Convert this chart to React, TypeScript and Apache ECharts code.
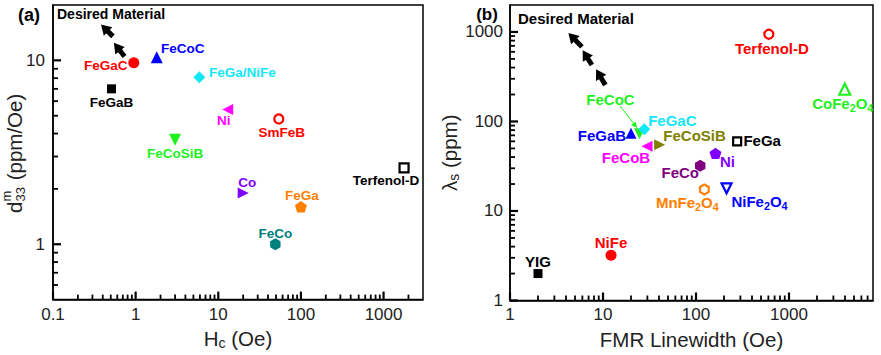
import React, { useEffect, useRef } from 'react';
import * as echarts from 'echarts';

const FONT = "'Liberation Sans', Arial, Helvetica, sans-serif";

// ---------- Panel (a): d33m vs Hc ----------
const leftNames = ['FeGaC', 'FeCoC', 'FeGa/NiFe', 'FeGaB', 'Ni', 'SmFeB', 'FeCoSiB', 'Terfenol-D', 'Co', 'FeGa', 'FeCo'];
const leftHc = [0.95, 1.8, 5.9, 0.51, 13, 54, 3.0, 1770, 20, 100, 49];
const leftD33 = [9.7, 10.4, 8.1, 7.0, 5.4, 4.8, 3.7, 2.6, 1.9, 1.6, 1.0];

// ---------- Panel (b): lambda_s vs FMR linewidth ----------
const rightNames = ['Terfenol-D', 'CoFe2O4', 'FeGaB', 'FeCoC', 'FeGaC', 'FeCoB', 'FeCoSiB', 'FeGa', 'Ni', 'FeCo', 'MnFe2O4', 'NiFe2O4', 'NiFe', 'YIG'];
const rightLinewidth = [607, 3975, 20, 24.7, 27.8, 29.7, 40.6, 277, 162, 111, 123, 213, 12.2, 2.0];
const rightLambda = [943, 229, 74, 73, 82, 53, 55, 60, 44, 32, 17.4, 17.9, 3.2, 2.0];

// arrows ("Desired Material") in data coordinates [from, to]
const leftArrows = [
  [[0.531, 13.5], [0.42, 15.0]],
  [[0.734, 10.5], [0.594, 11.85]],
];
const rightArrows = [
  [[5.93, 681], [4.63, 889]],
  [[7.59, 427], [6.45, 561]],
  [[10.6, 256], [8.97, 342]],
];
const feCoCPointer = [[15.3, 149], [22.2, 89.8]];

// axis ranges and tick values
const leftXRange = [0.1, 3000];
const leftYRange = [0.5, 20];
const rightXRange = [1, 8000];
const rightYRange = [1, 2000];
const leftXMajor = [0.1, 1, 10, 100, 1000];
const leftYMajor = [1, 10];
const rightXMajor = [1, 10, 100, 1000];
const rightYMajor = [1, 10, 100, 1000];
const leftXMinor = [0.2, 0.3, 0.4, 0.5, 0.6, 0.7, 0.8, 0.9, 2, 3, 4, 5, 6, 7, 8, 9, 20, 30, 40, 50, 60, 70, 80, 90, 200, 300, 400, 500, 600, 700, 800, 900, 2000];
const leftYMinor = [0.6, 0.7, 0.8, 0.9, 2, 3, 4, 5, 6, 7, 8, 9];
const rightXMinor = [2, 3, 4, 5, 6, 7, 8, 9, 20, 30, 40, 50, 60, 70, 80, 90, 200, 300, 400, 500, 600, 700, 800, 900, 2000, 3000, 4000, 5000, 6000, 7000];
const rightYMinor = [2, 3, 4, 5, 6, 7, 8, 9, 20, 30, 40, 50, 60, 70, 80, 90, 200, 300, 400, 500, 600, 700, 800, 900];

// ---------- styles ----------
const UP = 'path://M5,0L10,10L0,10Z';
const DOWN = 'path://M0,0L10,0L5,10Z';
const LEFT = 'path://M10,0L10,10L0,5Z';
const RIGHT = 'path://M0,0L10,5L0,10Z';
const PENT = 'path://M10,0L19.51,6.91L15.88,18.09L4.12,18.09L0.49,6.91Z';
const HEX = 'path://M8.66,0L17.32,5L17.32,15L8.66,20L0,15L0,5Z';

const RED = '#FF0000', BLUE = '#0000FF', CYAN = '#10E8F8', GREEN = '#1EF01E', MAGENTA = '#FF00FF',
  PURPLE = '#8000FF', ORANGE = '#FF8000', TEAL = '#008080', OLIVE = '#808000', DPURPLE = '#800080', BLACK = '#000000';

type St = { symbol: string; size: number; color: string; open?: boolean; dx: number; dy: number };

const leftStyles: St[] = [
  { symbol: 'circle', size: 11, color: RED, dx: -28, dy: 3 },
  { symbol: UP, size: 12, color: BLUE, dx: 26, dy: -9 },
  { symbol: 'diamond', size: 12, color: CYAN, dx: 43, dy: -5 },
  { symbol: 'rect', size: 9, color: BLACK, dx: 0, dy: 14 },
  { symbol: LEFT, size: 11, color: MAGENTA, dx: -4, dy: 11 },
  { symbol: 'circle', size: 9, color: RED, open: true, dx: 3, dy: 14 },
  { symbol: DOWN, size: 12, color: GREEN, dx: 0, dy: 14 },
  { symbol: 'rect', size: 9, color: BLACK, open: true, dx: -18, dy: 13 },
  { symbol: RIGHT, size: 11, color: PURPLE, dx: 4, dy: -10 },
  { symbol: PENT, size: 12, color: ORANGE, dx: 1, dy: -11 },
  { symbol: HEX, size: 12, color: TEAL, dx: 0, dy: -11 },
];

const rightStyles: St[] = [
  { symbol: 'circle', size: 9, color: RED, open: true, dx: 3, dy: 14 },
  { symbol: UP, size: 11, color: GREEN, open: true, dx: -2, dy: 14 },
  { symbol: UP, size: 11, color: BLUE, dx: -29, dy: 2 },
  { symbol: DOWN, size: 11, color: GREEN, dx: -29, dy: -34 },
  { symbol: 'diamond', size: 12, color: CYAN, dx: 28, dy: -9 },
  { symbol: LEFT, size: 11, color: MAGENTA, dx: -21, dy: 11 },
  { symbol: RIGHT, size: 11, color: OLIVE, dx: 35, dy: -9 },
  { symbol: 'rect', size: 8, color: BLACK, open: true, dx: 25, dy: -1 },
  { symbol: PENT, size: 12, color: PURPLE, dx: 12, dy: 8 },
  { symbol: HEX, size: 12, color: DPURPLE, dx: -20, dy: 7 },
  { symbol: HEX, size: 10, color: ORANGE, open: true, dx: -17, dy: 13 },
  { symbol: DOWN, size: 10, color: BLUE, open: true, dx: 33, dy: 13 },
  { symbol: 'circle', size: 11, color: RED, dx: 0, dy: -13 },
  { symbol: 'rect', size: 9, color: BLACK, dx: 0, dy: -12 },
];

function richText(name: string) {
  return name.replace(/([^0-9]+)|([0-9]+)/g, (_m, a, d) => (a ? `{m|${a}}` : `{s|${d}}`));
}

function pointSeries(names: string[], xs: number[], ys: number[], styles: St[], idx: number, fontSize: number) {
  return names.map((name, i) => {
    const s = styles[i];
    return {
      type: 'scatter',
      name,
      xAxisIndex: idx,
      yAxisIndex: idx,
      symbol: s.symbol,
      symbolSize: s.size,
      symbolKeepAspect: true,
      z: 4,
      silent: true,
      itemStyle: s.open
        ? { color: '#ffffff', borderColor: s.color, borderWidth: 2.2, opacity: 1 }
        : { color: s.color, opacity: 1 },
      data: [[xs[i], ys[i]]],
      label: {
        show: true,
        position: 'inside',
        offset: [s.dx, s.dy],
        formatter: richText(name),
        textBorderWidth: 0,
        rich: {
          m: { fontSize, fontWeight: 'bold', fontFamily: FONT, color: s.color, lineHeight: 20, verticalAlign: 'middle' },
          s: { fontSize: fontSize * 0.72, fontWeight: 'bold', fontFamily: FONT, color: s.color, lineHeight: 10, verticalAlign: 'bottom' },
        },
      },
    };
  });
}

// tick marks drawn as thin rect symbols placed on the axes through the axis scales
function tickSeries(idx: number, values: number[], dir: 'x' | 'y', base: number, len: number, width: number) {
  return {
    type: 'scatter',
    name: 'ticks',
    xAxisIndex: idx,
    yAxisIndex: idx,
    silent: true,
    clip: false,
    z: 10,
    symbol: 'rect',
    symbolSize: dir === 'x' ? [width, len] : [len, width],
    symbolOffset: dir === 'x' ? [0, -len / 2] : [len / 2, 0],
    itemStyle: { color: '#000000', opacity: 1 },
    label: { show: false },
    data: values.map((v) => (dir === 'x' ? [v, base] : [base, v])),
  };
}

function arrowLines(arrows: number[][][]) {
  return arrows.map((a) => [{ coord: a[0] }, { coord: a[1] }]);
}

function decadeLabel(v: number) {
  const l = Math.log10(v);
  const r = Math.round(l);
  if (Math.abs(l - r) > 1e-6) return '';
  return r < 0 ? v.toFixed(-r) : String(Math.round(v));
}

function logAxis(gridIndex: number, range: number[], extra: any) {
  return {
    type: 'log',
    logBase: 10,
    gridIndex,
    min: range[0],
    max: range[1],
    splitLine: { show: false },
    axisLine: { show: true, lineStyle: { color: '#000', width: 1.5 } },
    axisTick: { show: false },
    minorTick: { show: false },
    ...extra,
  };
}

export default function App() {
  const ref = useRef<HTMLDivElement>(null);
  useEffect(() => {
    if (!ref.current) return;
    const chart = echarts.init(ref.current, undefined, { renderer: 'svg' });
    const axisNameRich = {
      a: { fontSize: 20.5, fontFamily: FONT, color: '#222', lineHeight: 24, verticalAlign: 'middle' },
      b: { fontSize: 14, fontFamily: FONT, color: '#222', lineHeight: 12, verticalAlign: 'bottom' },
    };
    const lbl = (margin: number) => ({ formatter: decadeLabel, color: '#222', fontSize: 17, fontFamily: FONT, margin, hideOverlap: false });
    const option: any = {
      animation: false,
      backgroundColor: '#fff',
      grid: [
        { left: 53, top: 5, width: 370, height: 298, show: true, borderColor: '#000', borderWidth: 1.5, backgroundColor: 'transparent' },
        { left: 510, top: 5, width: 363, height: 297, show: true, borderColor: '#000', borderWidth: 1.5, backgroundColor: 'transparent' },
      ],
      xAxis: [
        logAxis(0, leftXRange, {
          position: 'bottom',
          name: '{a|H}{b|c}{a| (Oe)}',
          nameLocation: 'middle',
          nameGap: 26,
          nameTextStyle: { rich: axisNameRich },
          axisLabel: lbl(6),
        }),
        logAxis(1, rightXRange, {
          position: 'bottom',
          name: '{a|FMR Linewidth (Oe)}',
          nameLocation: 'middle',
          nameGap: 27,
          nameTextStyle: { rich: axisNameRich },
          axisLabel: lbl(5),
        }),
      ],
      yAxis: [
        logAxis(0, leftYRange, {
          position: 'left',
          axisLabel: lbl(8),
        }),
        logAxis(1, rightYRange, {
          position: 'left',
          name: '{a|λ}{b|s}{a| (ppm)}',
          nameLocation: 'middle',
          nameRotate: 90,
          nameGap: 43,
          nameTextStyle: { rich: axisNameRich },
          axisLabel: lbl(7),
        }),
      ],
      graphic: [
        { type: 'text', x: 29, y: 15, style: { text: '(a)', fontSize: 18, fontWeight: 'bold', fontFamily: FONT, fill: '#000', align: 'center', verticalAlign: 'middle' } },
        { type: 'text', x: 487, y: 14, style: { text: '(b)', fontSize: 17, fontWeight: 'bold', fontFamily: FONT, fill: '#000', align: 'center', verticalAlign: 'middle' } },
        { type: 'text', x: 57, y: 14, style: { text: 'Desired Material', fontSize: 14, fontWeight: 'bold', fontFamily: FONT, fill: '#000', align: 'left', verticalAlign: 'middle' } },
        { type: 'text', x: 518, y: 18, style: { text: 'Desired Material', fontSize: 15, fontWeight: 'bold', fontFamily: FONT, fill: '#000', align: 'left', verticalAlign: 'middle' } },
        {
          type: 'group',
          x: 14,
          y: 154,
          rotation: Math.PI / 2,
          children: [
            { type: 'text', x: -59, y: 0, style: { text: 'd', fontSize: 20.5, fontFamily: FONT, fill: '#222', align: 'left', verticalAlign: 'middle' } },
            { type: 'text', x: -47.5, y: -8, style: { text: 'm', fontSize: 13, fontFamily: FONT, fill: '#222', align: 'left', verticalAlign: 'middle' } },
            { type: 'text', x: -47.5, y: 6, style: { text: '33', fontSize: 13, fontFamily: FONT, fill: '#222', align: 'left', verticalAlign: 'middle' } },
            { type: 'text', x: -32, y: 0, style: { text: ' (ppm/Oe)', fontSize: 20.5, fontFamily: FONT, fill: '#222', align: 'left', verticalAlign: 'middle' } },
          ],
        },
      ],
      series: [
        ...pointSeries(leftNames, leftHc, leftD33, leftStyles, 0, 13.5),
        ...pointSeries(rightNames, rightLinewidth, rightLambda, rightStyles, 1, 15),
        tickSeries(0, leftXMajor, 'x', leftYRange[0], 8, 2.2),
        tickSeries(0, leftYMajor, 'y', leftXRange[0], 8, 2.2),
        tickSeries(1, rightXMajor, 'x', rightYRange[0], 8, 2.2),
        tickSeries(1, rightYMajor, 'y', rightXRange[0], 8, 2.2),
        tickSeries(0, leftXMinor, 'x', leftYRange[0], 5, 1.8),
        tickSeries(0, leftYMinor, 'y', leftXRange[0], 5, 1.8),
        tickSeries(1, rightXMinor, 'x', rightYRange[0], 5, 1.8),
        tickSeries(1, rightYMinor, 'y', rightXRange[0], 5, 1.8),
        {
          type: 'scatter',
          xAxisIndex: 0,
          yAxisIndex: 0,
          data: [],
          silent: true,
          markLine: {
            silent: true,
            symbol: ['none', 'triangle'],
            symbolSize: [12, 10],
            label: { show: false },
            lineStyle: { color: '#000', width: 5, type: 'solid' },
            data: arrowLines(leftArrows),
          },
        },
        {
          type: 'scatter',
          xAxisIndex: 1,
          yAxisIndex: 1,
          data: [],
          silent: true,
          markLine: {
            silent: true,
            symbol: ['none', 'triangle'],
            symbolSize: [12, 10],
            label: { show: false },
            lineStyle: { color: '#000', width: 5, type: 'solid' },
            data: arrowLines(rightArrows),
          },
        },
        {
          type: 'scatter',
          xAxisIndex: 1,
          yAxisIndex: 1,
          data: [],
          silent: true,
          markLine: {
            silent: true,
            symbol: ['none', 'triangle'],
            symbolSize: [6, 6],
            label: { show: false },
            lineStyle: { color: GREEN, width: 1, type: 'solid' },
            data: arrowLines([feCoCPointer]),
          },
        },
      ],
    };
    chart.setOption(option);
    return () => chart.dispose();
  }, []);
  return <div ref={ref} style={{ position: 'fixed', left: 0, top: 0, width: 881, height: 355 }} />;
}
